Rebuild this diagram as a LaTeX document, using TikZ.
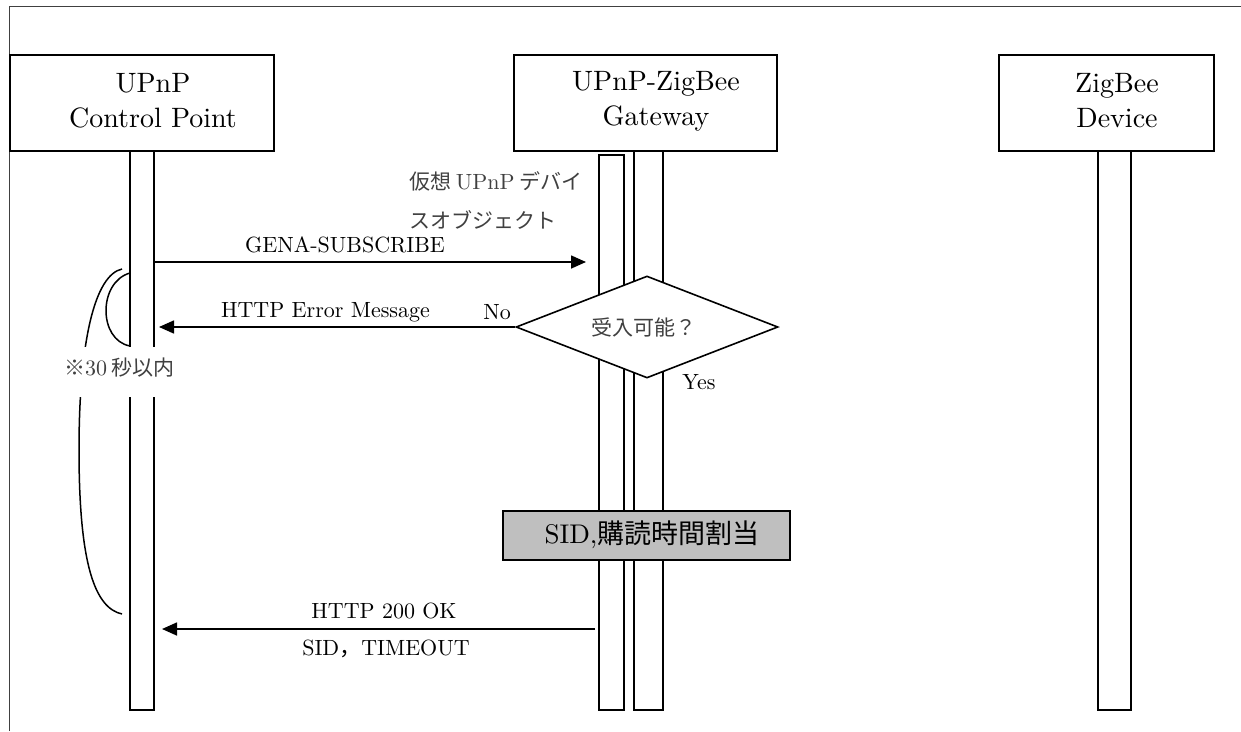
\documentclass[tikz,border=0pt]{standalone}
\usepackage{fontspec}
\setmainfont{lmroman10-regular.otf}
\newfontfamily\jp{Noto Sans CJK JP}
\usetikzlibrary{arrows.meta,shapes.geometric}
\tikzset{
  frameline/.style={draw=black!75, line width=1pt},
  actor/.style={draw, line width=1.8pt, fill=white, rectangle, inner sep=0pt},
  actortext/.style={inner sep=0pt, align=center, font=\fontsize{28}{35}\selectfont},
  lifebar/.style={draw, line width=1.4pt, fill=white, rectangle, inner sep=0pt},
  msg/.style={line width=1.6pt, -{Triangle[length=15pt,width=13pt]}},
  lbl/.style={inner sep=0pt, font=\fontsize{22}{26}\selectfont},
  jlbl/.style={inner sep=0pt, font=\jp\fontsize{21}{25}\selectfont, text=black!75},
  decision/.style={diamond, draw, line width=1.6pt, fill=white, inner sep=0pt, aspect=2.57,
    minimum width=262pt, minimum height=102pt},
  procbox/.style={draw, line width=1.6pt, fill=black!25, rectangle, inner sep=0pt,
    minimum width=287pt, minimum height=49pt},
  curve/.style={line width=1.5pt}
}
\begin{document}
\begin{tikzpicture}[x=1pt,y=-1pt]
\useasboundingbox (0,0) rectangle (1241,731);
\draw[frameline] (9,731) -- (9,6) -- (1241,6);

% lifelines
\node[lifebar, minimum width=24pt, minimum height=559pt] (cpl) at (142,430.5) {};
\node[lifebar, minimum width=25pt, minimum height=555pt] (gwa) at (611.5,432.5) {};
\node[lifebar, minimum width=29pt, minimum height=559pt] (gwb) at (648.5,430.5) {};
\node[lifebar, minimum width=33pt, minimum height=559pt] (zbl) at (1114.5,430.5) {};

% actor boxes
\node[actor, minimum width=264pt, minimum height=96pt] (cp) at (142,103) {};
\node[actortext] (cpt) at (153,101) {UPnP\\Control Point};
\node[actor, minimum width=263pt, minimum height=96pt] (gw) at (645.5,103) {};
\node[actortext] (gwt) at (656,101) {UPnP-ZigBee\\Gateway};
\node[actor, minimum width=215pt, minimum height=96pt] (zb) at (1106.5,103) {};
\node[actortext] (zbt) at (1117,101) {ZigBee\\Device};

% virtual device note
\node[jlbl, anchor=west] (v1) at (409,181) {仮想 {\rmfamily\fontsize{22}{26}\selectfont UPnP} デバイ};
\node[jlbl, anchor=west] (v2) at (409,220) {スオブジェクト};

% GENA-SUBSCRIBE
\coordinate (s1) at (154,262);
\coordinate (s2) at (586,262);
\draw[msg] (s1) -- (s2);
\node[lbl] (gena) at (345,245) {GENA-SUBSCRIBE};

% decision
\node[decision] (dec) at (647,327) {};
\node[jlbl] (dect) at (644,327) {受入可能？};
\coordinate (e2) at (159,327);
\draw[msg] (dec.west) -- (e2);
\node[lbl] (err) at (325.5,312) {HTTP Error Message};
\node[lbl] (no) at (497,312) {No};
\node[lbl] (yes) at (699,382) {Yes};

% curves
\draw[curve] (130,273) .. controls (98,282) and (98,340) .. (130,346);
\draw[curve] (122,269) .. controls (95,275) and (79,340) .. (79,450)
                       .. controls (79,565) and (95,608) .. (122,614);
\node[fill=white, minimum width=125pt, minimum height=50pt, inner sep=0pt] (lim) at (125,372) {};
\node[jlbl, anchor=west] (limt) at (64,368) {※{\rmfamily\fontsize{22}{26}\selectfont 30} 秒以内};

% process box
\node[procbox] (proc) at (646.5,535.5) {};
\node[inner sep=0pt, font=\fontsize{27}{30}\selectfont] (proct) at (652,535) {SID,{\jp 購読時間割当}};

% HTTP 200 OK
\coordinate (o1) at (595,629);
\coordinate (o2) at (162,629);
\draw[msg] (o1) -- (o2);
\node[lbl] (ok) at (384,611) {HTTP 200 OK};
\node[lbl] (sid) at (386,649) {SID{\jp ，}TIMEOUT};
\end{tikzpicture}
\end{document}
